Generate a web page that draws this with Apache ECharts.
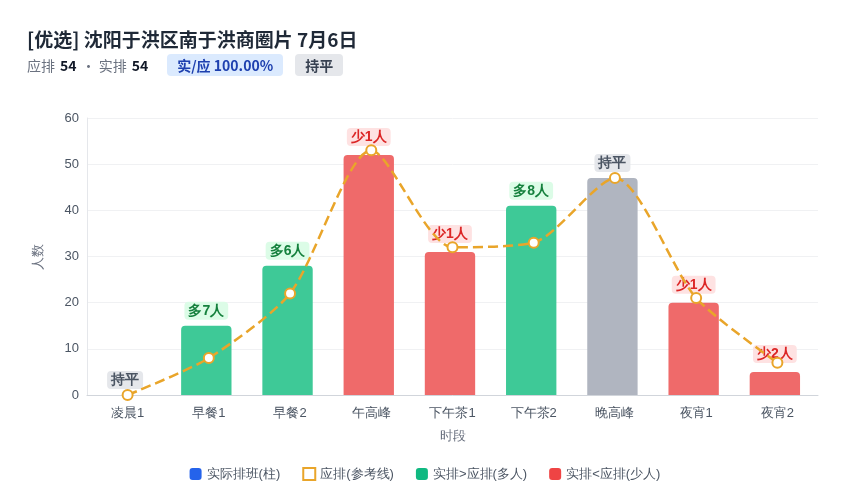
<!DOCTYPE html>
<html><head><meta charset="utf-8">
<script src="https://cdn.jsdelivr.net/npm/echarts@6/dist/echarts.min.js"></script>
<style>
body{margin:0;width:850px;height:500px;background:#fff;font-family:"Noto Sans CJK SC","Noto Sans",sans-serif;position:relative;overflow:hidden}
#title{position:absolute;left:27px;top:25px;font-size:19px;font-weight:bold;color:#1f2937}
#sub{position:absolute;left:27px;top:54px;font-size:14px;color:#6b7280;display:flex;align-items:center}
#sub b{color:#111827;margin:0 5px}
.tag{display:inline-block;padding:1px 10px;border-radius:4px;font-weight:bold;margin-left:12px;font-size:14px}
#chart{position:absolute;left:0;top:0;width:850px;height:500px}
</style></head><body>
<div id="chart"></div>
<div id="title">[优选] 沈阳于洪区南于洪商圈片 7月6日</div>
<div id="sub">应排<b>54</b>· 实排<b>54</b><span class="tag" style="background:#dbeafe;color:#1e40af;margin-left:14px">实/应 100.00%</span><span class="tag" style="background:#e5e7eb;color:#374151">持平</span></div>
<script>
const categories=['凌晨1','早餐1','早餐2','午高峰','下午茶1','下午茶2','晚高峰','夜宵1','夜宵2'];
const actual=[0,15,28,52,31,41,47,20,5];
const planned=[0,8,22,53,32,33,47,21,7];
const yTicks=[0,10,20,30,40,50,60];

const C={more:'#3ec997',less:'#ef6a6a',eq:'#b0b5c0'};
const barData=actual.map((v,i)=>{
  const d=v-planned[i];
  const k=d>0?'more':d<0?'less':'eq';
  const txt=d>0?'多'+d+'人':d<0?'少'+(-d)+'人':'持平';
  const lab={more:['#dcfce7','#15803d'],less:['#fee2e2','#dc2626'],eq:['#e5e7eb','#4b5563']}[k];
  return {value:v,itemStyle:{color:C[k],borderRadius:[4,4,0,0]},
    label:{show:true,position:'top',formatter:txt,backgroundColor:lab[0],color:lab[1],fontWeight:'bold',fontSize:14,padding:[2,4],borderRadius:4,distance:d<0?9:6}};
});
const chart=echarts.init(document.getElementById('chart'));
chart.setOption({
  animation:false,
  grid:{left:87,right:32,top:118,bottom:105},
  legend:{bottom:14,left:'center',itemWidth:12,itemHeight:12,itemGap:22,textStyle:{color:'#4b5563',fontSize:13},
    data:[{name:'实际排班(柱)',icon:'roundRect',itemStyle:{color:'#2563eb'}},
          {name:'应排(参考线)',icon:'rect',itemStyle:{color:'#fff',borderColor:'#e9a52a',borderWidth:2}},
          {name:'实排>应排(多人)',icon:'roundRect',itemStyle:{color:'#10b981'}},
          {name:'实排<应排(少人)',icon:'roundRect',itemStyle:{color:'#ef4444'}}]},
  xAxis:{type:'category',data:categories,name:'时段',nameLocation:'middle',nameGap:35,nameTextStyle:{color:'#6b7280',fontSize:13},
    axisLine:{lineStyle:{color:'#d1d5db'}},axisTick:{show:false},axisLabel:{color:'#4b5563',fontSize:13,margin:12}},
  yAxis:{type:'value',min:yTicks[0],max:yTicks[yTicks.length-1],interval:10,name:'人数',nameLocation:'middle',nameGap:42,
    nameTextStyle:{color:'#6b7280',fontSize:13},axisLabel:{color:'#4b5563',fontSize:13},
    splitLine:{lineStyle:{color:'#f0f1f3'}},axisLine:{show:true,lineStyle:{color:'#e5e7eb'}}},
  series:[
    {name:'实际排班(柱)',type:'bar',data:barData,barWidth:'62%',z:2},
    {name:'应排(参考线)',type:'line',data:planned,z:3,smooth:0.25,symbol:'circle',symbolSize:10,
      lineStyle:{color:'#e9a52a',width:2.5,type:'dashed'},itemStyle:{color:'#fff',borderColor:'#e9a52a',borderWidth:2}},
    {name:'实排>应排(多人)',type:'bar',data:[]},
    {name:'实排<应排(少人)',type:'bar',data:[]}
  ]
});
</script></body></html>
